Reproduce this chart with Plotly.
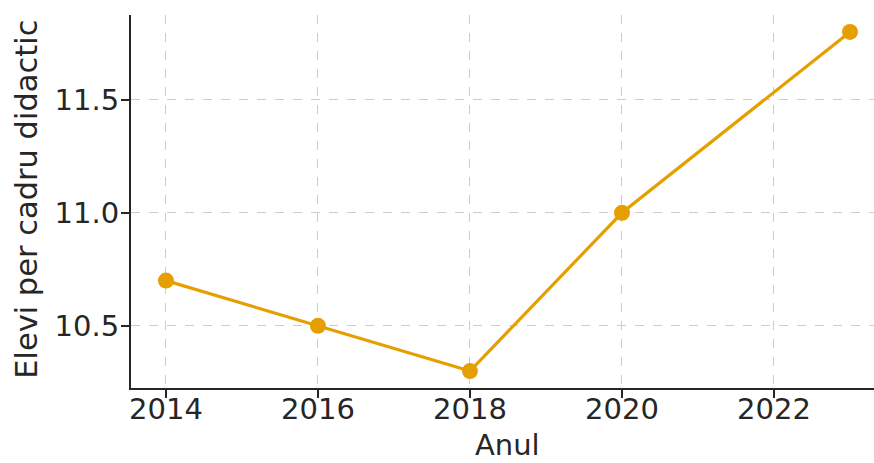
import plotly.graph_objects as go

years = [2014, 2016, 2018, 2020, 2023]
ratio = [10.7, 10.5, 10.3, 11.0, 11.8]
x_ticks = [2014, 2016, 2018, 2020, 2022]
y_ticks = [10.5, 11.0, 11.5]
y_tick_labels = ["10.5", "11.0", "11.5"]
x_title = "Anul"
y_title = "Elevi per cadru didactic"

fig = go.Figure()
fig.add_trace(go.Scatter(
    x=years, y=ratio, mode="lines+markers",
    line=dict(color="#E69F00", width=3.2),
    marker=dict(color="#E69F00", size=16),
    showlegend=False, cliponaxis=False,
))

font = dict(family="DejaVu Sans", size=29, color="#262626")
fig.update_layout(
    width=874, height=463,
    margin=dict(l=131, r=0, t=15, b=75),
    paper_bgcolor="white", plot_bgcolor="white",
    font=font,
    annotations=[
        dict(text=x_title, xref="paper", yref="paper", x=0.5067, y=-0.153,
             xanchor="center", yanchor="middle", showarrow=False, font=font,
             borderpad=0),
        dict(text=y_title, xref="paper", yref="paper", x=-0.14, y=0.507,
             xanchor="center", yanchor="middle", textangle=-90, showarrow=False,
             font=dict(family="DejaVu Sans", size=30.5, color="#262626")),
    ],
)
fig.update_xaxes(
    range=[2013.54, 2023.316],
    tickmode="array", tickvals=x_ticks,
    showgrid=True, gridcolor="#cccccc", griddash="dash", gridwidth=1,
    showline=True, linecolor="#262626", linewidth=2,
    ticks="outside", ticklen=8, tickwidth=2, tickcolor="#262626",
    ticklabelstandoff=-14,
    zeroline=False, automargin=False,
)
fig.update_yaxes(
    range=[10.225, 11.875],
    tickmode="array", tickvals=y_ticks, ticktext=y_tick_labels,
    showgrid=True, gridcolor="#cccccc", griddash="dash", gridwidth=1,
    showline=True, linecolor="#262626", linewidth=2,
    ticks="outside", ticklen=8, tickwidth=2, tickcolor="#262626",
    ticklabelstandoff=-4,
    zeroline=False, automargin=False,
)
fig.write_html("out.html", config={"displayModeBar": False},
               post_script="document.body.style.margin='0';")
